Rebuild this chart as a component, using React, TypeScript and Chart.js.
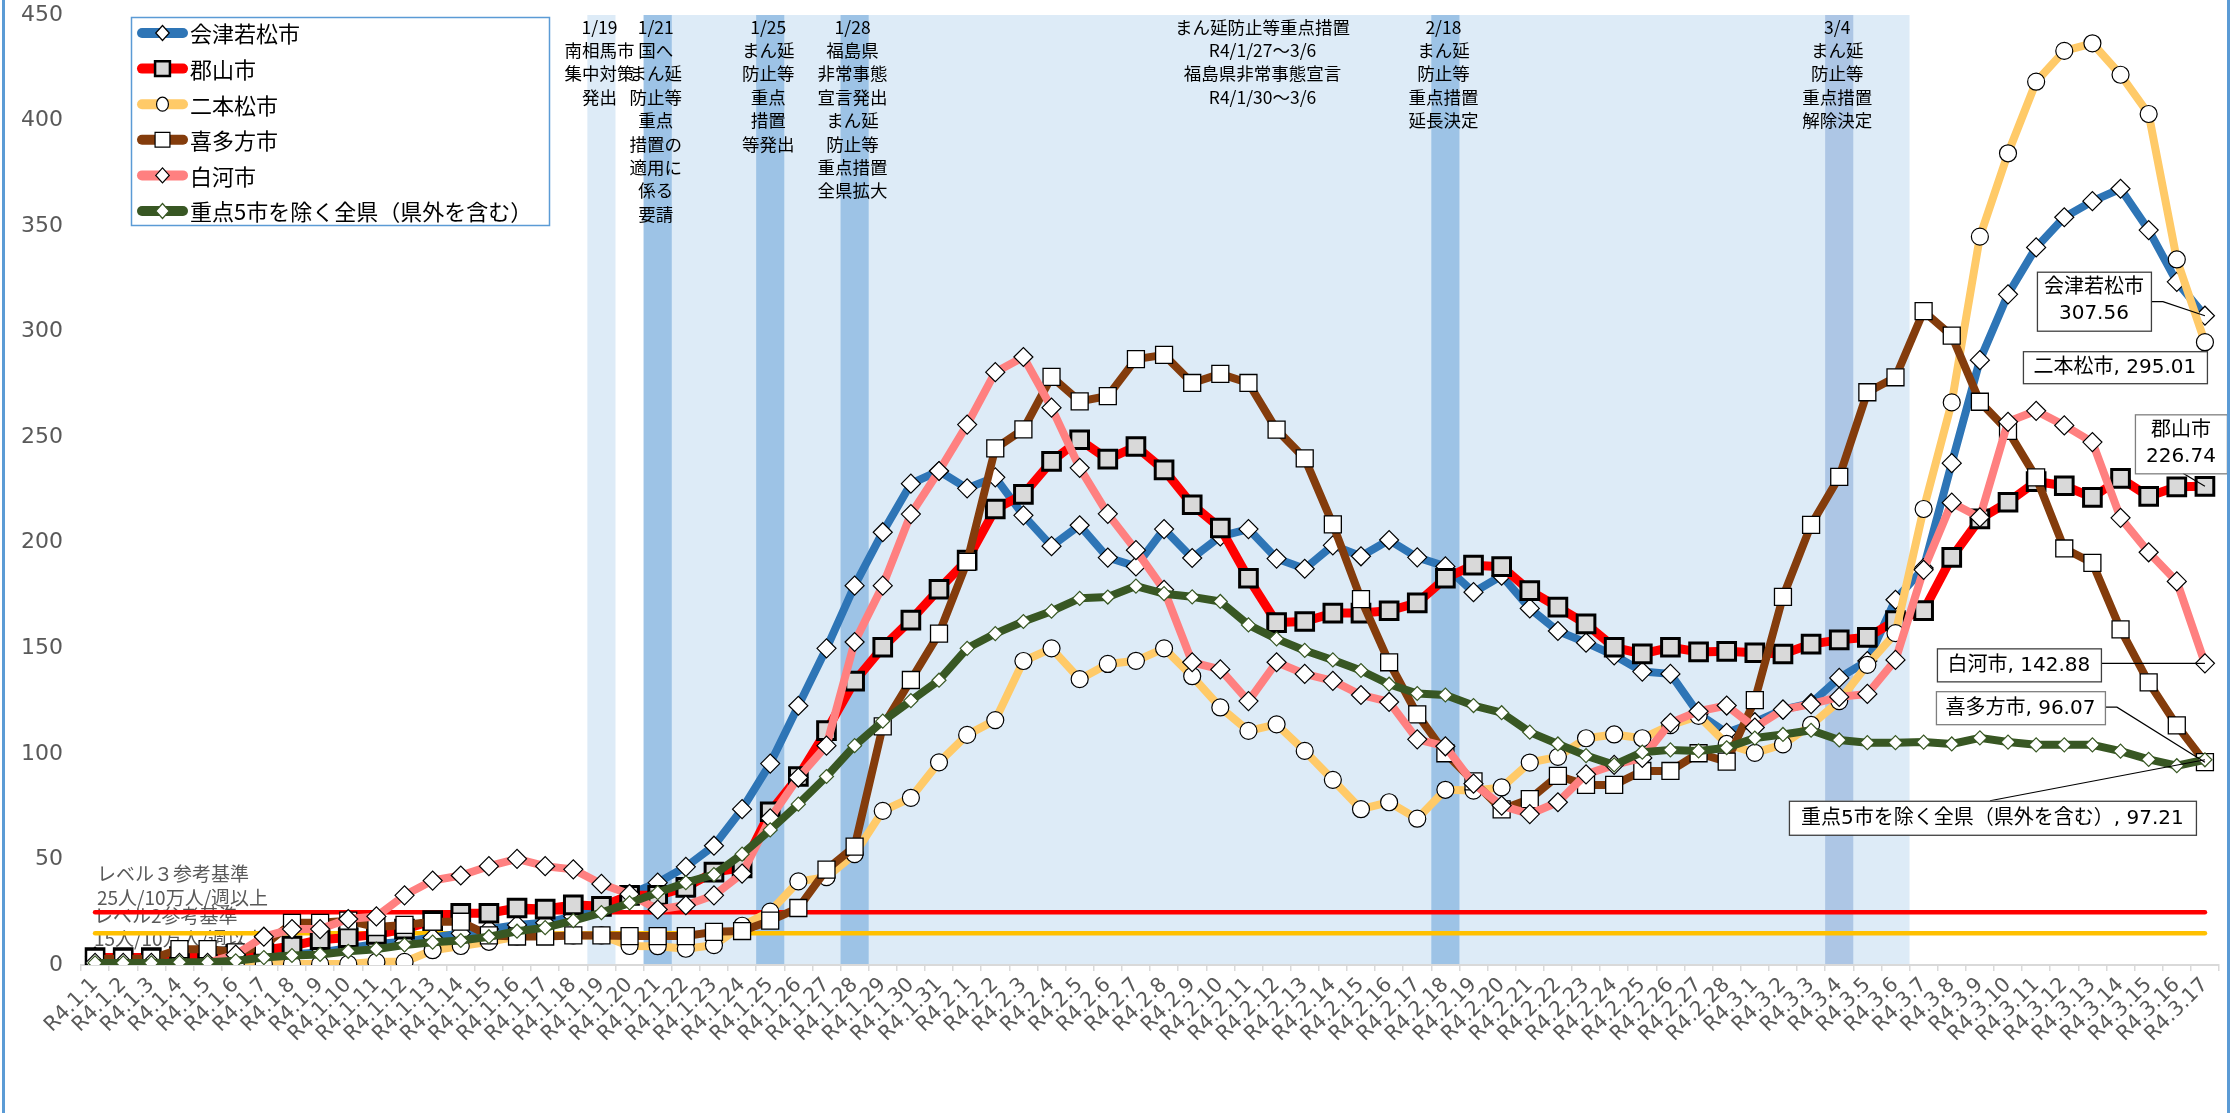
import React, { useEffect, useRef } from 'react';
import { Chart, registerables } from 'chart.js';

Chart.register(...registerables);

// ---------------- data ----------------
const categories: string[] = [
  'R4.1.1','R4.1.2','R4.1.3','R4.1.4','R4.1.5','R4.1.6','R4.1.7','R4.1.8','R4.1.9','R4.1.10',
  'R4.1.11','R4.1.12','R4.1.13','R4.1.14','R4.1.15','R4.1.16','R4.1.17','R4.1.18','R4.1.19','R4.1.20',
  'R4.1.21','R4.1.22','R4.1.23','R4.1.24','R4.1.25','R4.1.26','R4.1.27','R4.1.28','R4.1.29','R4.1.30','R4.1.31',
  'R4.2.1','R4.2.2','R4.2.3','R4.2.4','R4.2.5','R4.2.6','R4.2.7','R4.2.8','R4.2.9','R4.2.10',
  'R4.2.11','R4.2.12','R4.2.13','R4.2.14','R4.2.15','R4.2.16','R4.2.17','R4.2.18','R4.2.19','R4.2.20',
  'R4.2.21','R4.2.22','R4.2.23','R4.2.24','R4.2.25','R4.2.26','R4.2.27','R4.2.28',
  'R4.3.1','R4.3.2','R4.3.3','R4.3.4','R4.3.5','R4.3.6','R4.3.7','R4.3.8','R4.3.9','R4.3.10',
  'R4.3.11','R4.3.12','R4.3.13','R4.3.14','R4.3.15','R4.3.16','R4.3.17',
];

const aizuwakamatsu: number[] = [
  4, 3, 3, 2, 2, 3, 4, 5, 6, 8, 10, 11, 13, 15, 17, 19, 20, 23, 27, 33.6,
  39, 46.5, 56.5, 73.8, 95.4, 122.8, 150, 179.7, 205, 228, 234,
  225.8, 231, 213, 198.4, 208.3, 193, 188.8, 206.5, 192.8, 203, 206.5, 192.5, 187.7, 198.8,
  193.6, 201.3, 193.1, 188.8, 176.6, 184.4, 168.9, 158.2, 152.7, 146.7, 139, 137.9, 119, 110,
  115, 121, 124, 136, 144, 173, 188, 237.7, 286.5, 317.7, 339.9, 354.2, 361.8, 367.7, 348.1, 323.6, 307.56,
];

const koriyama: number[] = [
  3.5, 3.5, 3.5, 4, 4, 5, 7, 9, 12, 13, 14.5, 17, 21, 24.5, 24.5, 27, 26.5, 28.5, 27.8, 33,
  33, 36.8, 44, 46, 72.6, 89.3, 111, 134.5, 150.5, 163.4, 178,
  191.8, 216, 222.9, 238.6, 248.8, 239.6, 245.6, 234.5, 218, 207, 183.2, 162.2, 162.7, 166.7,
  166.7, 167.8, 171.5, 183.2, 189.4, 188.7, 177.3, 169.5, 161.6, 150.5, 147.4, 150.5, 148.3, 148.6,
  147.9, 147.3, 152, 154, 155.2, 163.1, 167.9, 193.1, 211.3, 219.2, 229, 227, 221.5, 230.5, 222, 226.5, 226.74,
];

const nihonmatsu: number[] = [
  0.5, 0.5, 0.5, 0.5, 0.5, 0.5, 0.5, 0.5, 0.5, 0.5, 1.5, 1.5, 7, 9, 11, 13.5, 14, 14, 14, 9,
  8.9, 7.7, 9.4, 18.6, 25.3, 39.6, 41.6, 52.5, 73, 79.2, 96,
  109, 116, 144, 150, 135.4, 142.6, 144.1, 150, 136.8, 122, 110.9, 114, 101.4, 87.7,
  73.8, 77.1, 69.3, 83, 82.6, 84.1, 95.9, 98.6, 107.4, 109.2, 107.4, 113.6, 118, 104.7,
  100.5, 104.5, 113.7, 125, 142.2, 157.2, 216, 266.5, 345, 384.5, 418.4, 433, 436.6, 421.7, 403.1, 334.2, 295.01,
];

const kitakata: number[] = [
  3, 3, 3, 7.5, 7.5, 6, 9, 20, 20, 21, 18, 19, 20.5, 20.5, 14, 13.5, 13.5, 14, 14, 13.7,
  13.7, 13.7, 15.7, 16.1, 21, 27, 45.2, 56.1, 113, 135, 157,
  191, 244.7, 253.7, 278.6, 267, 269.5, 287, 289, 275.7, 280, 275.7, 253.6, 240, 208.7,
  173.3, 143.4, 118.7, 100.3, 87, 73.7, 78.6, 89.6, 85.3, 85.3, 91.9, 91.9, 100.3, 96.3,
  125.5, 174.4, 208.5, 231.2, 271.3, 278.4, 309.7, 298.1, 266.8, 253, 231, 197.3, 190.5, 159, 133.9, 113.5, 96.07,
];

const shirakawa: number[] = [
  1, 1, 1, 1, 1, 4.9, 13.4, 17, 17, 21.8, 23, 33, 40, 42.4, 46.8, 50.3, 46.8, 45.3, 38.4, 33.6,
  26.3, 28.3, 33, 43.3, 69.5, 88.8, 103.9, 153, 179.7, 213.6, 234,
  256, 280.8, 288, 264, 235.5, 213.7, 196.5, 177.7, 143.4, 140, 125, 143.4, 137.9, 134.6,
  127.9, 124.6, 106.9, 103.6, 85.9, 75.5, 71.5, 77.1, 90.3, 94.8, 98.1, 114.7, 120.2, 122.9,
  112.5, 121, 123.6, 127, 128.4, 144.5, 187.2, 219, 212, 257.3, 262.5, 255.6, 247.7, 211.8, 195.5, 181.7, 142.88,
];

const prefectureExcl5: number[] = [
  1, 1, 1, 1.3, 1.3, 2, 3.5, 4.5, 5, 6.5, 7.5, 9.5, 10.8, 11.6, 13.4, 16, 17.7, 21, 24.8, 29.4,
  34.3, 39, 42.8, 52.5, 64, 76.2, 89.3, 103.9, 115.5, 125.2, 134.9,
  150, 157, 162.7, 167.6, 173.7, 174.3, 179.5, 175.9, 174.4, 172.2, 161.1, 154.5, 149, 144.5,
  139.5, 133, 128.6, 127.9, 122.9, 119.5, 110.3, 104.7, 99.2, 94.8, 100.8, 101.9, 101.4, 102.9,
  107.5, 109.2, 111.2, 106.6, 105.3, 105.3, 105.6, 104.7, 107.6, 105.6, 104.3, 104.3, 104.3, 101.3, 97.4, 94.4, 97.21,
];

const seriesNames: string[] = ['会津若松市', '郡山市', '二本松市', '喜多方市', '白河市', '重点5市を除く全県（県外を含む）'];

const level3Value = 25;
const level2Value = 15;
const level3Text: string[] = ['レベル３参考基準', '25人/10万人/週以上'];
const level2Text: string[] = ['レベル2参考基準', '15人/10万人/週以上'];

const yTicks: number[] = [0, 50, 100, 150, 200, 250, 300, 350, 400, 450];

const lightBands: [string, string][] = [['R4.1.19', 'R4.1.19'], ['R4.1.21', 'R4.3.6']];
const darkBands: string[] = ['R4.1.21', 'R4.1.25', 'R4.1.28', 'R4.2.18'];
const darkBands2: string[] = ['R4.3.4'];

const notes: { at: string; next?: string; lines: string[] }[] = [
  { at: 'R4.1.19', lines: ['1/19', '南相馬市', '集中対策', '発出'] },
  { at: 'R4.1.21', lines: ['1/21', '国へ', 'まん延', '防止等', '重点', '措置の', '適用に', '係る', '要請'] },
  { at: 'R4.1.25', lines: ['1/25', 'まん延', '防止等', '重点', '措置', '等発出'] },
  { at: 'R4.1.28', lines: ['1/28', '福島県', '非常事態', '宣言発出', 'まん延', '防止等', '重点措置', '全県拡大'] },
  { at: 'R4.2.11', next: 'R4.2.12', lines: ['まん延防止等重点措置', 'R4/1/27～3/6', '福島県非常事態宣言', 'R4/1/30～3/6'] },
  { at: 'R4.2.18', lines: ['2/18', 'まん延', '防止等', '重点措置', '延長決定'] },
  { at: 'R4.3.4', lines: ['3/4', 'まん延', '防止等', '重点措置', '解除決定'] },
];

// ---------------- styles ----------------
const JP = '"Noto Sans CJK JP", "Noto Sans", sans-serif';
const NUM = '"DejaVu Sans", "Noto Sans CJK JP", sans-serif';

type Shape = 'diamond' | 'square' | 'circle';
const styles = [
  { color: '#2E75B6', width: 8, shape: 'diamond' as Shape, ps: 'rectRot', r: 9.5, fill: '#FFFFFF', stroke: '#000000', bw: 1.2 },
  { color: '#FF0000', width: 9, shape: 'square' as Shape, ps: 'rect', r: 12.5, fill: '#D9D9D9', stroke: '#000000', bw: 3 },
  { color: '#FFCA68', width: 8, shape: 'circle' as Shape, ps: 'circle', r: 8.5, fill: '#FFFFFF', stroke: '#000000', bw: 1.2 },
  { color: '#843C0C', width: 8, shape: 'square' as Shape, ps: 'rect', r: 12, fill: '#FFFFFF', stroke: '#000000', bw: 1.3 },
  { color: '#FF8080', width: 8, shape: 'diamond' as Shape, ps: 'rectRot', r: 9.5, fill: '#FFFFFF', stroke: '#000000', bw: 1.2 },
  { color: '#385723', width: 8, shape: 'diamond' as Shape, ps: 'rectRot', r: 7, fill: '#FFFFFF', stroke: '#385723', bw: 1.2 },
];

function drawShape(ctx: CanvasRenderingContext2D, shape: Shape, x: number, y: number, r: number, fill: string, stroke: string, lw: number) {
  ctx.save();
  ctx.beginPath();
  if (shape === 'diamond') {
    ctx.moveTo(x, y - r); ctx.lineTo(x + r * 0.9, y); ctx.lineTo(x, y + r); ctx.lineTo(x - r * 0.9, y); ctx.closePath();
  } else if (shape === 'square') {
    const s = r * Math.SQRT1_2;
    ctx.rect(x - s, y - s, 2 * s, 2 * s);
  } else {
    ctx.ellipse(x, y, r * 0.85, r, 0, 0, Math.PI * 2);
  }
  ctx.fillStyle = fill; ctx.fill();
  ctx.lineWidth = lw; ctx.strokeStyle = stroke; ctx.stroke();
  ctx.restore();
}

// end-label placement relative to the last point of each series
const endLabels = [
  { ds: 0, two: true, dx: -168, dy: -44, w: 114, h: 59, border: '#404040', leader: 'aizu' },
  { ds: 2, two: false, dx: -182, dy: 9, w: 184, h: 32, border: '#404040', leader: 'none' },
  { ds: 1, two: true, dx: -70, dy: -72, w: 92, h: 59, border: '#7F7F7F', leader: 'kori' },
  { ds: 4, two: false, dx: -268, dy: -15, w: 164, h: 33, border: '#404040', leader: 'shira' },
  { ds: 3, two: false, dx: -269, dy: -71, w: 169, h: 33, border: '#7F7F7F', leader: 'kita' },
  { ds: 5, two: false, dx: -416, dy: 41, w: 407, h: 34, border: '#404040', leader: 'ken' },
];

const allSeries = [aizuwakamatsu, koriyama, nihonmatsu, kitakata, shirakawa, prefectureExcl5];

const decor = {
  id: 'decor',
  beforeDraw(chart: any) {
    const { ctx, chartArea: a, scales } = chart;
    const x = scales.x;
    const half = (x.getPixelForValue(1) - x.getPixelForValue(0)) / 2;
    const px = (lab: string) => x.getPixelForValue(categories.indexOf(lab));
    ctx.save();
    ctx.fillStyle = '#FFFFFF';
    ctx.fillRect(0, 0, chart.width, chart.height);
    ctx.fillStyle = '#DDEBF7';
    for (const [s, e] of lightBands) {
      ctx.fillRect(px(s) - half, a.top, px(e) - px(s) + 2 * half, a.bottom - a.top - 1);
    }
    ctx.fillStyle = '#9DC3E6';
    for (const b of darkBands) ctx.fillRect(px(b) - half, a.top, 2 * half, a.bottom - a.top - 1);
    ctx.fillStyle = '#ADC6E5';
    for (const b of darkBands2) ctx.fillRect(px(b) - half, a.top, 2 * half, a.bottom - a.top - 1);
    ctx.restore();
  },
  beforeDatasetsDraw(chart: any) {
    const { ctx, chartArea: a, scales } = chart;
    const x = scales.x; const y = scales.y;
    const px = (lab: string) => x.getPixelForValue(categories.indexOf(lab));
    ctx.save();
    // event notes
    ctx.fillStyle = '#000000';
    ctx.textAlign = 'center';
    ctx.textBaseline = 'middle';
    ctx.font = `17.5px ${JP}`;
    for (const n of notes) {
      const cx = n.next ? (px(n.at) + px(n.next)) / 2 : px(n.at) - 2;
      n.lines.forEach((t, k) => ctx.fillText(t, cx, a.top + 12 + k * 23.4));
    }
    // level texts
    ctx.fillStyle = '#595959';
    ctx.textAlign = 'left';
    ctx.font = `19px ${JP}`;
    const y3 = y.getPixelForValue(level3Value);
    const y2 = y.getPixelForValue(level2Value);
    ctx.fillText(level3Text[0], a.left + 16, y3 - 38);
    ctx.fillText(level3Text[1], a.left + 16, y3 - 14);
    ctx.fillText(level2Text[0], a.left + 13, y2 - 18);
    ctx.fillText(level2Text[1], a.left + 13, y2 + 5);
    ctx.restore();
  },
  afterDatasetsDraw(chart: any) {
    const { ctx } = chart;
    ctx.save();
    for (const L of endLabels) {
      const meta = chart.getDatasetMeta(L.ds);
      const pt = meta.data[meta.data.length - 1];
      const p = { x: pt.x, y: pt.y };
      const left = p.x + L.dx, top = p.y + L.dy;
      // leader
      ctx.strokeStyle = '#000000';
      ctx.lineWidth = 1.2;
      ctx.beginPath();
      if (L.leader === 'aizu') { ctx.moveTo(left + L.w, p.y - 14); ctx.lineTo(left + L.w + 12, p.y - 14); ctx.lineTo(p.x, p.y); }
      else if (L.leader === 'kori') { ctx.moveTo(p.x - 22, top + L.h); ctx.lineTo(p.x, p.y); }
      else if (L.leader === 'shira') { ctx.moveTo(left + L.w, p.y); ctx.lineTo(p.x, p.y); }
      else if (L.leader === 'kita') { ctx.moveTo(left + L.w, p.y - 55); ctx.lineTo(left + L.w + 12, p.y - 55); ctx.lineTo(p.x, p.y); }
      else if (L.leader === 'ken') { ctx.moveTo(left + 201, top); ctx.lineTo(p.x, p.y); }
      ctx.stroke();
      // box
      ctx.fillStyle = '#FFFFFF';
      ctx.fillRect(left, top, L.w, L.h);
      ctx.strokeStyle = L.border;
      ctx.lineWidth = 1.3;
      ctx.strokeRect(left + 0.5, top + 0.5, L.w, L.h);
      const series = allSeries[L.ds];
      const v = series[series.length - 1].toFixed(2);
      const name = seriesNames[L.ds];
      ctx.fillStyle = '#000000';
      ctx.textAlign = 'center';
      ctx.textBaseline = 'middle';
      ctx.font = `20px ${NUM}`;
      const cx = left + L.w / 2;
      if (L.two) {
        ctx.fillText(name, cx, top + L.h / 2 - 13);
        ctx.fillText(v, cx, top + L.h / 2 + 13);
      } else {
        ctx.fillText(`${name}, ${v}`, cx, top + L.h / 2 + 1);
      }
    }
    ctx.restore();
  },
  afterDraw(chart: any) {
    const { ctx } = chart;
    ctx.save();
    // legend box
    const lx = 131, ly = 17, lw = 418, lh = 208;
    ctx.fillStyle = '#FFFFFF';
    ctx.fillRect(lx, ly, lw, lh);
    ctx.strokeStyle = '#5B9BD5';
    ctx.lineWidth = 1.5;
    ctx.strokeRect(lx + 0.5, ly + 0.5, lw, lh);
    ctx.textAlign = 'left';
    ctx.textBaseline = 'middle';
    ctx.font = `22px ${JP}`;
    seriesNames.forEach((name, i) => {
      const st = styles[i];
      const yy = ly + 16 + i * 35.6;
      ctx.strokeStyle = st.color;
      ctx.lineWidth = 10;
      ctx.lineCap = 'round';
      ctx.beginPath(); ctx.moveTo(142, yy); ctx.lineTo(183, yy); ctx.stroke();
      ctx.lineCap = 'butt';
      const rr = st.shape === 'square' ? 10.5 : st.shape === 'circle' ? 7 : 7.5;
      drawShape(ctx, st.shape, 162.5, yy, rr, st.fill, st.stroke, st.shape === 'square' && i === 1 ? 2.5 : 1.2);
      ctx.fillStyle = '#000000';
      ctx.fillText(name, 190, yy + 1);
    });
    // chart-area side borders
    ctx.fillStyle = '#5B9BD5';
    ctx.fillRect(2, 0, 3, chart.height);
    ctx.fillRect(chart.width - 10, 0, 3, chart.height);
    ctx.restore();
  },
};

export default function App() {
  const ref = useRef<HTMLCanvasElement | null>(null);
  useEffect(() => {
    document.body.style.margin = '0';
    const seriesData = allSeries.map((d, i) => ({
      type: 'line' as const,
      label: seriesNames[i],
      data: d,
      borderColor: styles[i].color,
      borderWidth: styles[i].width,
      backgroundColor: styles[i].fill,
      pointStyle: styles[i].ps as any,
      pointRadius: styles[i].r,
      pointBackgroundColor: styles[i].fill,
      pointBorderColor: styles[i].stroke,
      pointBorderWidth: styles[i].bw,
      tension: 0,
      fill: false,
      order: 6 - i,
      borderJoinStyle: 'round' as const,
    }));
    const levelSets = [
      { value: level3Value, color: '#FF0000' },
      { value: level2Value, color: '#FFC000' },
    ].map((l) => ({
      type: 'line' as const,
      label: '',
      data: categories.map(() => l.value),
      borderColor: l.color,
      borderWidth: 4.5,
      pointRadius: 0,
      tension: 0,
      fill: false,
      order: 20,
      borderCapStyle: 'round' as const,
    }));
    const chart = new Chart(ref.current as HTMLCanvasElement, {
      type: 'line',
      data: { labels: categories, datasets: [...seriesData, ...levelSets] as any },
      options: {
        responsive: false,
        animation: false,
        devicePixelRatio: 1,
        layout: { autoPadding: false, padding: { left: 0, right: 18, top: 15, bottom: 0 } },
        plugins: { legend: { display: false }, tooltip: { enabled: false } },
        events: [],
        scales: {
          x: {
            type: 'category',
            offset: true,
            grid: { display: true, drawOnChartArea: false, drawTicks: true, tickLength: 6, color: '#D9D9D9', offset: true, lineWidth: 1.5 },
            border: { display: true, color: '#D9D9D9', width: 2 },
            ticks: { autoSkip: false, maxRotation: 45, minRotation: 45, color: '#595959', font: { family: NUM, size: 20.5 }, padding: 2 },
            afterFit: (s: any) => { s.height = 148; s.paddingRight = 0; },
          },
          y: {
            min: 0,
            max: 450,
            afterBuildTicks: (s: any) => { s.ticks = yTicks.map((v) => ({ value: v })); },
            grid: { display: false, drawTicks: false },
            border: { display: false },
            ticks: { color: '#595959', font: { family: NUM, size: 22 }, padding: 18 },
            afterFit: (s: any) => { s.width = 81; s.paddingTop = 0; s.paddingBottom = 0; },
          },
        },
      },
      plugins: [decor],
    } as any);
    return () => chart.destroy();
  }, []);
  return (
    <div style={{ width: 2237, height: 1113, position: 'relative', background: '#FFFFFF' }}>
      <canvas ref={ref} width={2237} height={1113} style={{ display: 'block', width: 2237, height: 1113 }} />
    </div>
  );
}
